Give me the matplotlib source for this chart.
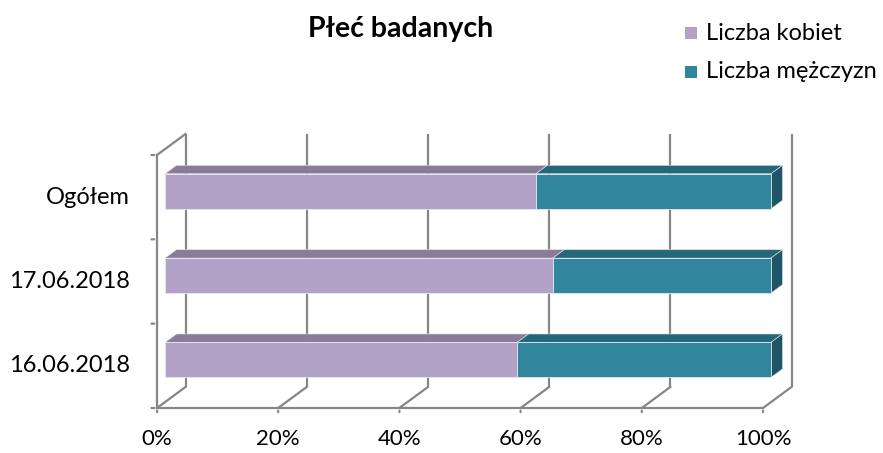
import matplotlib.pyplot as plt
from matplotlib.patches import Polygon, Rectangle

# dane
kategorie = ["16.06.2018", "17.06.2018", "Ogółem"]
kobiety = [58.1, 64.0, 61.2]
mezczyzni = [41.9, 36.0, 38.8]
serie = ["Liczba kobiet", "Liczba mężczyzn"]
x_ticks = [0, 20, 40, 60, 80, 100]
x_labels = ["0%", "20%", "40%", "60%", "80%", "100%"]

# kolory: front, gora, bok
kolory = [("#B3A2C7", "#8A7B9B", "#6F6280"),
          ("#31859C", "#256879", "#1F5566")]
szary = "#868686"

plt.rcParams['font.family'] = ['Lato', 'DejaVu Sans']

W, H = 883, 453
fig = plt.figure(figsize=(W / 100, H / 100), dpi=100)
# plaszczyzna przednia wykresu
x0, x1, y0, y1 = 157, 763, 155, 408
ax = fig.add_axes([x0 / W, 1 - y1 / H, (x1 - x0) / W, (y1 - y0) / H])
ax.set_xlim(0, 100)
ax.set_ylim(-0.5, len(kategorie) - 0.5)
ax.axis("off")

# glebokosc w jednostkach danych
DX = 28.5 / (x1 - x0) * 100
DY = 21 / (y1 - y0) * len(kategorie)
ytop = len(kategorie) - 0.5

# siatka na tylnej scianie + podloga
for t in x_ticks:
    ax.plot([t + DX, t + DX], [-0.5 + DY, ytop + DY], color=szary, lw=1.6,
            clip_on=False, zorder=1, solid_capstyle="butt")
    ax.plot([t, t + DX], [-0.5, -0.5 + DY], color=szary, lw=1.6,
            clip_on=False, zorder=1)
    ax.annotate(x_labels[t // 20], (t, -0.5), xytext=(0, -22),
                textcoords="offset points", ha="center", va="center",
                fontsize=16, annotation_clip=False)
    ax.annotate("", (t, -0.5), xytext=(0, -5), textcoords="offset points",
                arrowprops=dict(arrowstyle="-", color=szary, lw=1.6),
                annotation_clip=False)

# lewa sciana i os
ax.plot([0, 100], [-0.5, -0.5], color=szary, lw=1.6, clip_on=False, zorder=1)
ax.plot([0, 0], [-0.5, ytop], color=szary, lw=1.6, clip_on=False, zorder=1)
ax.plot([0, DX], [ytop, ytop + DY], color=szary, lw=1.6, clip_on=False, zorder=1)
for yy in [-0.5, 0.5, 1.5, 2.5]:
    ax.annotate("", (0, yy), xytext=(-6, 0), textcoords="offset points",
                arrowprops=dict(arrowstyle="-", color=szary, lw=1.6),
                annotation_clip=False)

# slupki 3D
f0, f1 = 8 / 28.5, 19.5 / 28.5
h = 35 / (y1 - y0) * len(kategorie)
for i, kat in enumerate(kategorie):
    lewo = 0
    for j, vals in enumerate([kobiety, mezczyzni]):
        v = vals[i]
        fr, gr, bk = kolory[j]
        xl, xr = lewo, lewo + v
        yb, yt = i - h / 2, i + h / 2
        ax.add_patch(Rectangle((xl + f0 * DX, yb + f0 * DY), v, h, facecolor=fr,
                               edgecolor="#E8E8F0", lw=0.6, zorder=3, clip_on=False))
        ax.add_patch(Polygon([(xl + f0 * DX, yt + f0 * DY), (xr + f0 * DX, yt + f0 * DY),
                              (xr + f1 * DX, yt + f1 * DY), (xl + f1 * DX, yt + f1 * DY)],
                             facecolor=gr, edgecolor="#E8E8F0", lw=0.4, zorder=2.9,
                             clip_on=False))
        if j == 1:
            ax.add_patch(Polygon([(xr + f0 * DX, yb + f0 * DY), (xr + f0 * DX, yt + f0 * DY),
                                  (xr + f1 * DX, yt + f1 * DY), (xr + f1 * DX, yb + f1 * DY)],
                                 facecolor=bk, edgecolor="#E8E8F0", lw=0.4, zorder=2.9,
                                 clip_on=False))
        lewo = xr
    ax.annotate(kat, (0, i), xytext=(-19.5, 0), textcoords="offset points",
                ha="right", va="center", fontsize=17, annotation_clip=False)

# tytul i legenda
fig.text(401 / W, 1 - 29 / H, "Płeć badanych", ha="center", va="center",
         fontsize=20.5, fontweight="bold")
for j, nazwa in enumerate(serie):
    yy = 33 + 39 * j
    fig.patches.append(Rectangle((685 / W, 1 - (yy + 6) / H), 12 / W, 12 / H,
                                 facecolor=kolory[j][0], transform=fig.transFigure))
    fig.text(706 / W, 1 - yy / H, nazwa, ha="left", va="center", fontsize=17)

fig.savefig("out.png", dpi=100)
